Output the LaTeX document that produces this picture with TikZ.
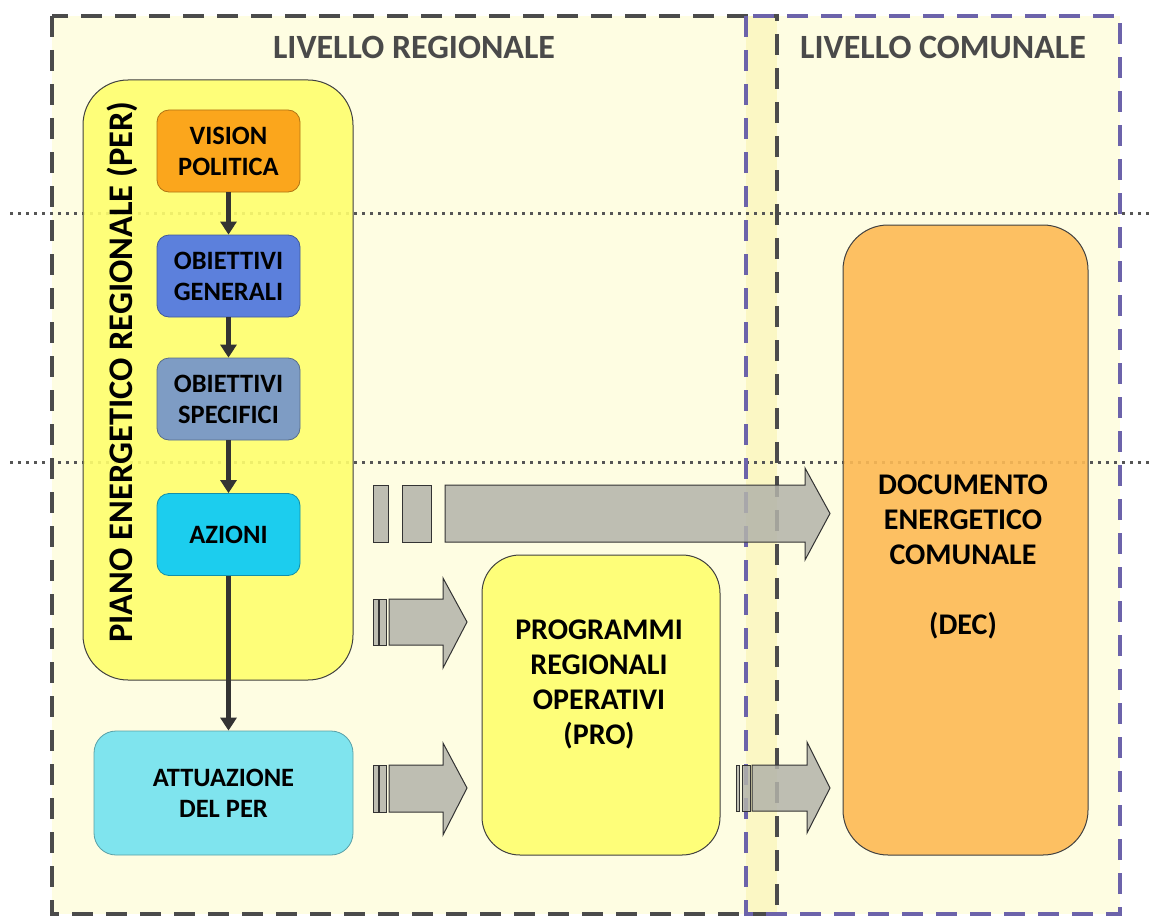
\documentclass[tikz,border=0pt]{standalone}
\usepackage{fontspec}
\setmainfont{Carlito}
\usetikzlibrary{arrows.meta}
\definecolor{bgyellow}{HTML}{FEFDE2}
\definecolor{stripyellow}{HTML}{FBF7C4}
\definecolor{framegray}{HTML}{4B4B4B}
\definecolor{framepurple}{HTML}{6C63AA}
\definecolor{dotgray}{HTML}{555555}
\definecolor{peryellow}{HTML}{FFFF6E}
\definecolor{decorange}{HTML}{FDBA55}
\definecolor{visionc}{HTML}{FBA61C}
\definecolor{obgenc}{HTML}{5C80DC}
\definecolor{obspecc}{HTML}{7E9CC4}
\definecolor{azionic}{HTML}{1CCDEE}
\definecolor{attuazc}{HTML}{7FE4EE}
\definecolor{arrowgray}{HTML}{B3B3AA}
\definecolor{titlegray}{HTML}{4A4A4A}
\definecolor{connc}{HTML}{333333}
\tikzset{
  frame/.style={line width=4pt, dash pattern=on 21pt off 13pt},
  dotline/.style={draw=dotgray, line width=3pt, dash pattern=on 3pt off 5pt},
  smallbox/.style={rounded corners=12pt, draw=#1!70!black, fill=#1, line width=0.8pt,
    minimum width=143pt, minimum height=82pt, align=center, inner sep=0pt,
    font=\bfseries\fontsize{26.5}{31}\selectfont},
  bigbox/.style={rounded corners=#1, draw=black!75, line width=1pt, inner sep=0pt, fill opacity=0.9},
  boxtext/.style={align=center, font=\bfseries\fontsize{30}{35}\selectfont},
  title/.style={text=titlegray, font=\bfseries\fontsize{34}{38}\selectfont},
  conn/.style={draw=connc, line width=4.5pt, -{Triangle[width=16pt,length=13pt]}},
  blockarrow/.style={fill=arrowgray, fill opacity=0.85, draw=connc, line width=1pt, line join=miter},
}
\begin{document}
\begin{tikzpicture}[x=1pt,y=-1pt]
\useasboundingbox (0,0) rectangle (1150,915);
% level backgrounds
\fill[bgyellow] (52,16) rectangle (1120,914);
\fill[stripyellow] (746,16) rectangle (777,914);
% horizontal dotted separators
\draw[dotline] (10,213) -- (1150,213);
\draw[dotline] (10,462) -- (1150,462);
% level frames
\draw[frame, framegray] (52,16) rectangle (777,914);
\draw[frame, framepurple] (746,16) rectangle (1120,914);
% titles
\node[title] (titreg) at (414,47) {LIVELLO REGIONALE};
\node[title] (titcom) at (943,47) {LIVELLO COMUNALE};
% PER container
\node[bigbox=45pt, fill=peryellow, minimum width=270pt, minimum height=600pt] (per) at (218,380) {};
\node[rotate=90, font=\bfseries\fontsize{34.5}{38}\selectfont] (pertitle) at (122,372) {PIANO ENERGETICO REGIONALE (PER)};
% inner boxes
\node[smallbox=visionc] (vision) at (228.5,151) {VISION\\POLITICA};
\node[smallbox=obgenc] (obgen) at (228.5,276) {OBIETTIVI\\GENERALI};
\node[smallbox=obspecc] (obspec) at (228.5,399) {OBIETTIVI\\SPECIFICI};
\node[smallbox=azionic] (azioni) at (228.5,534.5) {AZIONI};
\node[smallbox=attuazc, rounded corners=22pt, minimum width=259pt, minimum height=124pt] (attuaz) at (223.5,793) {ATTUAZIONE\\DEL PER};
% PRO and DEC
\node[bigbox=38pt, fill=peryellow, minimum width=238pt, minimum height=300pt] (pro) at (601,705) {};
\node[boxtext] (protext) at (599,684) {PROGRAMMI\\REGIONALI\\OPERATIVI\\(PRO)};
\node[bigbox=45pt, fill=decorange, minimum width=245pt, minimum height=630pt] (dec) at (965.5,540) {};
\node[boxtext] (dectext) at (963,557) {DOCUMENTO\\ENERGETICO\\COMUNALE\\[35pt](DEC)};
% vertical connectors
\draw[conn] (vision) -- (obgen);
\draw[conn] (obgen) -- (obspec);
\draw[conn] (obspec) -- (azioni);
\draw[conn] (azioni) -- (azioni |- attuaz.north);
% block arrows
% 1: PER -> DEC
\draw[blockarrow] (373,485) rectangle (388,542);
\draw[blockarrow] (402,485) rectangle (431,542);
\draw[blockarrow] (445,485) -- (805,485) -- (805,468) -- (830,513.5) -- (805,560) -- (805,542) -- (445,542) -- cycle;
% 2: PER -> PRO
\draw[blockarrow] (373,599) rectangle (378,645);
\draw[blockarrow] (379.5,599) rectangle (386,645);
\draw[blockarrow] (389,599) -- (443,599) -- (443,578) -- (467,622) -- (443,668) -- (443,645) -- (389,645) -- cycle;
% 3: ATTUAZIONE -> PRO
\draw[blockarrow] (373,765) rectangle (378,812);
\draw[blockarrow] (379.5,765) rectangle (386,812);
\draw[blockarrow] (389,765) -- (443,765) -- (443,743) -- (467,788) -- (443,835) -- (443,812) -- (389,812) -- cycle;
% 4: PRO -> DEC
\draw[blockarrow] (736,765) rectangle (739,811);
\draw[blockarrow] (742,765) rectangle (750,811);
\draw[blockarrow] (752,765) -- (807,765) -- (807,742) -- (830,788) -- (807,833) -- (807,811) -- (752,811) -- cycle;
\end{tikzpicture}
\end{document}
